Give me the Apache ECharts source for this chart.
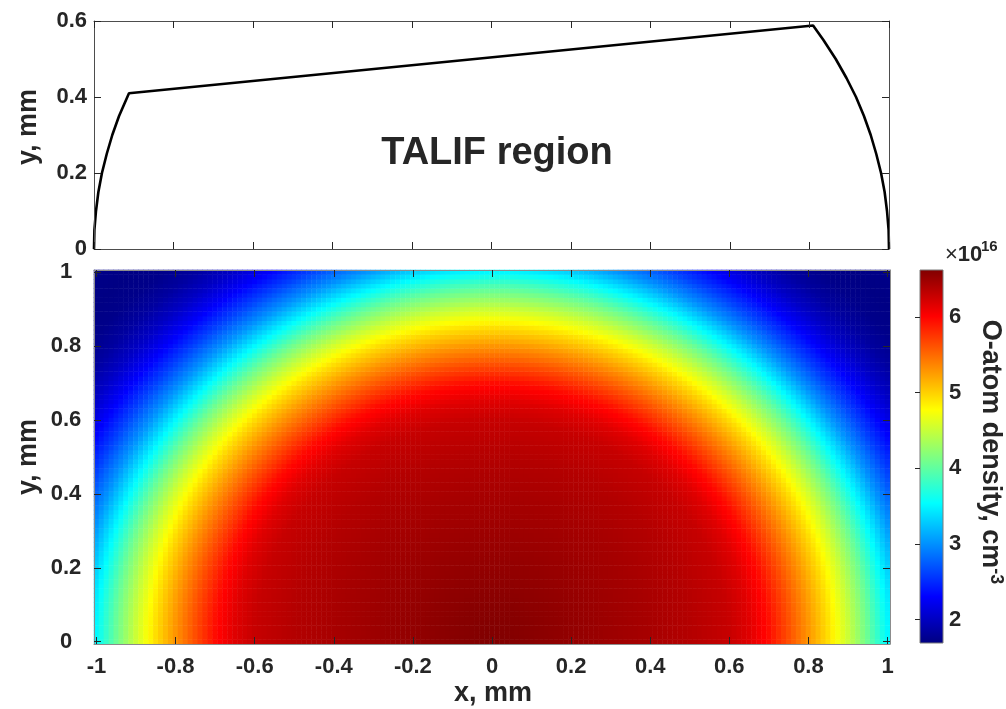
<!DOCTYPE html>
<html>
<head>
<meta charset="utf-8">
<script src="https://cdn.jsdelivr.net/npm/echarts@6/dist/echarts.min.js"></script>
<style>
  html, body { margin: 0; padding: 0; background: #fff; }
  #chart { width: 1006px; height: 709px; }
</style>
</head>
<body>
<div id="chart"></div>
<script>
// TALIF region outline, x and y in mm
const outlineX = [-1, -0.999, -0.995, -0.989, -0.980, -0.968, -0.954, -0.937, -0.912,
                  0.809, 0.835, 0.866, 0.893, 0.917, 0.937, 0.954, 0.968, 0.980, 0.989, 0.995, 0.999, 1];
const outlineY = [0, 0.05, 0.10, 0.15, 0.20, 0.25, 0.30, 0.35, 0.41,
                  0.588, 0.55, 0.50, 0.45, 0.40, 0.35, 0.30, 0.25, 0.20, 0.15, 0.10, 0.05, 0];

// O-atom density (x1e16 cm^-3) against distance from the origin (mm)
const profileRadius  = [0, 0.1, 0.2, 0.3, 0.4, 0.5, 0.6, 0.65, 0.7, 0.75, 0.8, 0.85, 0.9, 0.95,
                        1.0, 1.05, 1.1, 1.15, 1.2, 1.25, 1.3, 1.35, 1.42];
const profileDensity = [6.62, 6.58, 6.53, 6.48, 6.43, 6.37, 6.28, 6.16, 5.95, 5.63, 5.29, 4.93, 4.52, 4.05,
                        3.52, 3.02, 2.62, 2.28, 2.02, 1.84, 1.74, 1.71, 1.73];

// colour scale limits (x1e16 cm^-3)
const densityRange = [1.69, 6.62];

// map cells: x from -1 to 1 mm, y from 0 to 1 mm
const cellStep = 0.0125;
const mapX = [-1, 1];
const mapY = [0, 1];

// tick labels
const xTicks = [-1, -0.8, -0.6, -0.4, -0.2, 0, 0.2, 0.4, 0.6, 0.8, 1];
const yTicksTop = [0, 0.2, 0.4, 0.6];
const yTicksMap = [0, 0.2, 0.4, 0.6, 0.8, 1];
const cbarTicks = [2, 3, 4, 5, 6];

// jet colour map
const jet = ['#000080', '#0000ff', '#0080ff', '#00ffff', '#80ff80', '#ffff00', '#ff8000', '#ff0000', '#800000'];

const FONT = "'Liberation Sans', Arial, sans-serif";
const INK = '#262626';

function densityAt(r) {
  const n = profileRadius.length;
  if (r <= profileRadius[0]) return profileDensity[0];
  for (let k = 1; k < n; k++) {
    if (r <= profileRadius[k]) {
      const t = (r - profileRadius[k - 1]) / (profileRadius[k] - profileRadius[k - 1]);
      return profileDensity[k - 1] + t * (profileDensity[k] - profileDensity[k - 1]);
    }
  }
  return profileDensity[n - 1];
}

const nx = Math.round((mapX[1] - mapX[0]) / cellStep) + 1;
const ny = Math.round((mapY[1] - mapY[0]) / cellStep) + 1;
const xCats = [], yCats = [], cells = [];
for (let i = 0; i < nx; i++) xCats.push((mapX[0] + i * cellStep).toFixed(4));
for (let j = 0; j < ny; j++) yCats.push((mapY[0] + j * cellStep).toFixed(4));
for (let i = 0; i < nx; i++) {
  const x = mapX[0] + i * cellStep;
  for (let j = 0; j < ny; j++) {
    const y = mapY[0] + j * cellStep;
    cells.push([i, j, densityAt(Math.hypot(x, y))]);
  }
}
const half = cellStep / 2;
const outline = outlineX.map((x, k) => [x, outlineY[k]]);

const tickLabel = { color: INK, fontFamily: FONT, fontWeight: 'bold', fontSize: 22 };

function boxAxis(base, lineColor) {
  const axis = Object.assign({
    splitLine: { show: false },
    axisTick: { show: true, inside: true, length: 7, lineStyle: { color: INK, width: 1 } },
    axisLabel: { show: false },
    z: 5
  }, base);
  axis.axisLine = { show: true, onZero: false, lineStyle: { color: lineColor || '#4d4d4d', width: 1 } };
  return axis;
}

const chart = echarts.init(document.getElementById('chart'), null, { renderer: 'canvas' });

chart.setOption({
  animation: false,
  backgroundColor: '#fff',
  grid: [
    { left: 94, top: 21, width: 795, height: 228 },
    { left: 94, top: 270, width: 796, height: 374 },
    { left: 920, top: 270, width: 23, height: 373 }
  ],
  xAxis: [
    boxAxis({ gridIndex: 0, type: 'value', position: 'bottom', min: -1, max: 1, interval: 0.2 }),
    boxAxis({ gridIndex: 0, type: 'value', position: 'top', min: -1, max: 1, interval: 0.2 }),
    { gridIndex: 1, type: 'category', data: xCats, show: false, boundaryGap: true },
    boxAxis({ gridIndex: 1, type: 'value', position: 'bottom', min: mapX[0] - half, max: mapX[1] + half,
      axisTick: { show: true, inside: true, length: 7, customValues: xTicks, lineStyle: { color: INK } },
      axisLabel: Object.assign({ show: true, customValues: xTicks, margin: 12 }, tickLabel) }, '#8c8c8c'),
    boxAxis({ gridIndex: 1, type: 'value', position: 'top', min: mapX[0] - half, max: mapX[1] + half,
      axisTick: { show: true, inside: true, length: 7, customValues: xTicks, lineStyle: { color: INK } } }, '#8c8c8c'),
    { gridIndex: 2, type: 'value', min: 0, max: 1, show: false }
  ],
  yAxis: [
    boxAxis({ gridIndex: 0, type: 'value', position: 'left', min: 0, max: 0.6, interval: 0.2,
      axisLabel: Object.assign({ show: true, margin: 7 }, tickLabel) }),
    boxAxis({ gridIndex: 0, type: 'value', position: 'right', min: 0, max: 0.6, interval: 0.2 }),
    { gridIndex: 1, type: 'category', data: yCats, show: false, boundaryGap: true },
    boxAxis({ gridIndex: 1, type: 'value', position: 'left', min: mapY[0] - half, max: mapY[1] + half,
      axisTick: { show: true, inside: true, length: 7, customValues: yTicksMap, lineStyle: { color: INK } },
      axisLabel: Object.assign({ show: true, customValues: yTicksMap, margin: 28, align: 'center' }, tickLabel) }, '#8c8c8c'),
    boxAxis({ gridIndex: 1, type: 'value', position: 'right', min: mapY[0] - half, max: mapY[1] + half,
      axisTick: { show: true, inside: true, length: 7, customValues: yTicksMap, lineStyle: { color: INK } } }, '#8c8c8c'),
    Object.assign(boxAxis({ gridIndex: 2, type: 'value', position: 'right', min: densityRange[0], max: densityRange[1],
      axisTick: { show: true, inside: true, length: 5, customValues: cbarTicks, lineStyle: { color: INK } },
      axisLabel: Object.assign({ show: true, customValues: cbarTicks, margin: 6 }, tickLabel) }), { axisLine: { show: false } })
  ],
  visualMap: {
    type: 'continuous',
    show: false,
    seriesIndex: 1,
    dimension: 2,
    min: densityRange[0],
    max: densityRange[1],
    inRange: { color: jet }
  },
  series: [
    {
      type: 'line',
      xAxisIndex: 0, yAxisIndex: 0,
      data: outline,
      showSymbol: false,
      clip: false,
      lineStyle: { color: '#000', width: 2.6 },
      z: 3
    },
    {
      type: 'heatmap',
      xAxisIndex: 2, yAxisIndex: 2,
      data: cells,
      progressive: 0,
      emphasis: { disabled: true },
      z: 2
    },
    {
      type: 'custom',
      xAxisIndex: 5, yAxisIndex: 5,
      data: [[densityRange[0], densityRange[1]]],
      renderItem: function (params, api) {
        const p0 = api.coord([0, api.value(1)]);
        const p1 = api.coord([1, api.value(0)]);
        const stops = jet.map((c, k) => ({ offset: k / (jet.length - 1), color: c }));
        return {
          type: 'rect',
          shape: { x: p0[0], y: p0[1], width: p1[0] - p0[0], height: p1[1] - p0[1] },
          style: {
            fill: new echarts.graphic.LinearGradient(0, 1, 0, 0, stops),
            stroke: '#7a7a7a', lineWidth: 1
          }
        };
      },
      z: 2
    }
  ],
  graphic: [
    { type: 'text', x: 497, y: 154, style: { text: 'TALIF region', fill: INK, fontFamily: FONT, fontWeight: 'bold', fontSize: 38, align: 'center', verticalAlign: 'middle' } },
    { type: 'text', x: 29, y: 127, rotation: Math.PI / 2, style: { text: 'y, mm', fill: INK, fontFamily: FONT, fontWeight: 'bold', fontSize: 27, align: 'center', verticalAlign: 'middle' } },
    { type: 'text', x: 29, y: 457, rotation: Math.PI / 2, style: { text: 'y, mm', fill: INK, fontFamily: FONT, fontWeight: 'bold', fontSize: 27, align: 'center', verticalAlign: 'middle' } },
    { type: 'text', x: 493, y: 694, style: { text: 'x, mm', fill: INK, fontFamily: FONT, fontWeight: 'bold', fontSize: 27, align: 'center', verticalAlign: 'middle' } },
    { type: 'text', x: 945, y: 255, style: { text: '{t|×}10', fill: INK, fontFamily: FONT, fontWeight: 'bold', fontSize: 22, align: 'left', verticalAlign: 'middle',
        rich: { t: { fontFamily: FONT, fontWeight: 'normal', fontSize: 22, fill: INK } } } },
    { type: 'text', x: 981, y: 247, style: { text: '16', fill: INK, fontFamily: FONT, fontWeight: 'bold', fontSize: 15, align: 'left', verticalAlign: 'middle' } },
    { type: 'text', x: 990, y: 452, rotation: -Math.PI / 2, style: {
        text: 'O-atom density, cm{sup|-3}', fill: INK, fontFamily: FONT, fontWeight: 'bold', fontSize: 27, lineHeight: 30,
        align: 'center', verticalAlign: 'middle',
        rich: { sup: { fontFamily: FONT, fontWeight: 'bold', fontSize: 18, lineHeight: 18, verticalAlign: 'top', fill: INK } } } }
  ]
});
</script>
</body>
</html>
